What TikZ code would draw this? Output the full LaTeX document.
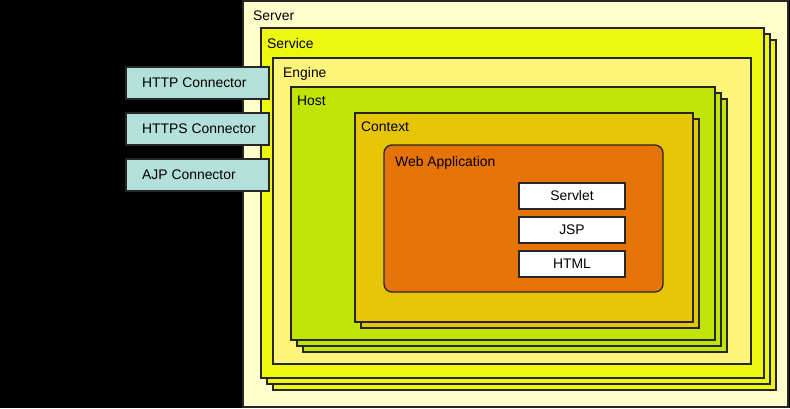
\documentclass[tikz,border=0pt]{standalone}
\usepackage{fontspec}
\setmainfont{Liberation Sans}
\begin{document}
\begin{tikzpicture}[x=1pt,y=-1pt,
  every node/.style={font=\fontsize{13.9}{16}\selectfont},
  frame/.style={draw=black!85, line width=1.3pt, anchor=north west, inner sep=0pt, outer sep=0pt},
  title/.style={anchor=base west, inner sep=0pt, text=black},
  server/.style={frame, fill=srvcol, minimum width=545pt, minimum height=406pt},
  service/.style={frame, fill=svccol, minimum width=503pt, minimum height=350pt},
  engine/.style={frame, fill=engcol, minimum width=478pt, minimum height=306pt},
  host/.style={frame, fill=hostcol, minimum width=424pt, minimum height=253pt},
  context/.style={frame, fill=ctxcol, minimum width=338pt, minimum height=209pt},
  webapp/.style={frame, fill=appcol, rounded corners=8pt, minimum width=279pt, minimum height=147pt},
  resource/.style={frame, fill=white, minimum width=106pt, minimum height=26pt},
  connector/.style={frame, fill=concol, minimum width=143pt, minimum height=32pt}
]
\definecolor{srvcol}{HTML}{FFFFCC}
\definecolor{svccol}{HTML}{EEF70F}
\definecolor{engcol}{HTML}{FFF47A}
\definecolor{hostcol}{HTML}{BFE405}
\definecolor{ctxcol}{HTML}{E6C505}
\definecolor{appcol}{HTML}{E67305}
\definecolor{concol}{HTML}{B3E1D9}

% black backdrop
\fill[black] (0,0) rectangle (790,408);
\useasboundingbox (0,0) rectangle (790,408);

% Server
\node[server] (server) at (243,1) {};
\node[title] (serverlbl) at (253,20) {Server};

% Service (stacked)
\node[service] (service3) at (273,40) {};
\node[service] (service2) at (267,34) {};
\node[service] (service) at (261,28) {};
\node[title] (servicelbl) at (267,48) {Service};

% Engine
\node[engine] (engine) at (273,58) {};
\node[title] (enginelbl) at (283,77) {Engine};

% Host (stacked)
\node[host] (host3) at (303,99) {};
\node[host] (host2) at (297,93) {};
\node[host] (host) at (291,87) {};
\node[title] (hostlbl) at (297,105) {Host};

% Context (stacked)
\node[context] (context2) at (361,119) {};
\node[context] (context) at (355,113) {};
\node[title] (contextlbl) at (361,131) {Context};

% Web application with its resources
\node[webapp] (webapp) at (384,145) {};
\node[title] (webapplbl) at (395,166) {Web Application};
\node[resource] (servlet) at (519,183) {};
\node at (servlet.center) (servletlbl) {Servlet};
\node[resource] (jsp) at (519,217) {};
\node at (jsp.center) (jsplbl) {JSP};
\node[resource] (html) at (519,251) {};
\node at (html.center) (htmllbl) {HTML};

% Connectors
\node[connector] (http) at (126,67) {};
\node[anchor=west, inner sep=0pt] (httplbl) at ([xshift=16pt]http.west) {HTTP Connector};
\node[connector] (https) at (126,113) {};
\node[anchor=west, inner sep=0pt] (httpslbl) at ([xshift=16pt]https.west) {HTTPS Connector};
\node[connector] (ajp) at (126,159) {};
\node[anchor=west, inner sep=0pt] (ajplbl) at ([xshift=16pt]ajp.west) {AJP Connector};
\end{tikzpicture}
\end{document}
